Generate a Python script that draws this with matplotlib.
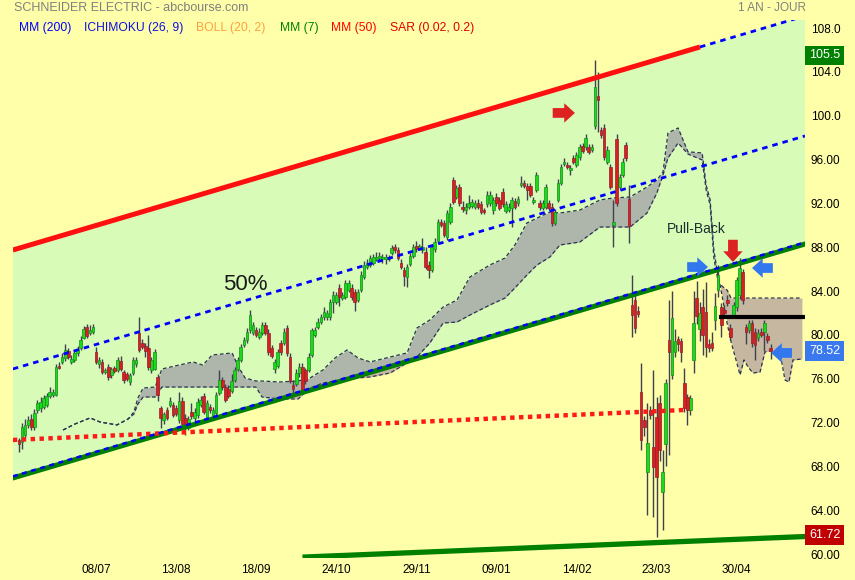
import matplotlib
matplotlib.use("Agg")
import matplotlib.pyplot as plt
import numpy as np

plt.rcParams["font.family"] = "Liberation Sans"

# daily candles: open, high, low, close
candles = [
    (70.4, 70.6, 69.3, 70.0), (70.2, 72.0, 69.6, 71.6), (70.9, 72.3, 70.6, 71.8), (71.8, 72.6, 71.5, 72.2),
    (72.3, 72.8, 71.3, 71.6), (71.6, 73.2, 71.3, 72.9), (73.1, 74.1, 72.9, 73.8), (73.3, 74.3, 73.0, 73.9),
    (73.4, 74.5, 73.2, 74.2), (73.6, 74.7, 73.4, 74.4), (74.4, 75.2, 74.2, 74.8), (74.5, 75.1, 74.3, 74.8),
    (74.5, 77.3, 74.4, 77.1), (77.2, 77.5, 76.9, 77.0), (77.5, 78.3, 77.3, 78.0), (77.9, 79.2, 77.6, 78.6),
    (78.5, 78.8, 77.8, 78.0), (77.5, 78.2, 77.3, 77.8), (77.7, 78.6, 77.5, 78.3), (78.3, 79.0, 78.1, 78.7),
    (78.8, 79.9, 78.6, 79.5), (79.7, 80.8, 79.6, 80.5), (80.7, 81.0, 79.7, 79.9), (80.2, 80.9, 80.0, 80.4),
    (80.3, 81.0, 80.1, 80.7), (78.4, 78.9, 77.3, 77.5), (77.3, 78.0, 77.0, 77.7), (77.5, 77.8, 76.4, 76.6),
    (76.6, 77.0, 76.4, 76.8), (77.1, 77.3, 75.9, 76.2), (76.3, 77.1, 76.1, 76.9), (77.0, 77.2, 76.5, 76.7),
    (76.8, 78.0, 76.6, 77.7), (77.6, 78.1, 76.7, 76.9), (76.6, 76.8, 75.6, 75.9), (76.4, 76.6, 75.8, 76.0),
    (75.7, 76.5, 75.4, 76.3), (76.5, 78.0, 76.3, 77.7), (77.3, 78.0, 77.1, 77.7), (80.2, 81.6, 78.4, 78.6),
    (79.3, 79.6, 78.7, 78.9), (79.0, 79.3, 78.0, 78.5), (78.8, 80.0, 76.8, 77.1), (76.8, 78.0, 76.5, 77.7),
    (76.9, 78.7, 76.8, 78.4), (76.2, 76.4, 74.0, 74.5), (73.3, 73.5, 71.5, 72.4), (72.2, 73.0, 71.9, 72.8),
    (73.1, 73.4, 72.2, 72.4), (73.6, 74.3, 73.4, 74.0), (73.6, 73.9, 72.5, 72.7), (73.3, 73.6, 72.6, 72.8),
    (72.2, 74.8, 72.0, 74.0), (74.0, 74.3, 71.8, 71.9), (72.4, 72.8, 70.9, 71.6), (71.5, 72.6, 71.3, 72.3),
    (73.0, 73.8, 72.3, 72.6), (72.4, 73.3, 72.1, 73.0), (72.7, 74.2, 72.4, 73.9), (73.6, 74.4, 73.4, 74.1),
    (74.4, 74.7, 72.8, 73.0), (72.5, 74.1, 72.3, 73.8), (73.4, 73.7, 72.9, 73.1), (72.4, 73.4, 72.2, 73.1),
    (72.9, 74.8, 72.7, 74.5), (74.7, 76.8, 74.5, 75.9), (75.9, 76.2, 75.0, 75.2), (75.2, 75.5, 73.9, 74.1),
    (75.1, 75.4, 74.2, 74.4), (74.9, 76.4, 74.7, 75.8), (75.9, 77.1, 75.7, 76.8), (76.9, 78.0, 76.7, 77.7),
    (77.7, 79.2, 77.5, 78.9), (79.1, 79.8, 78.9, 79.5), (79.5, 80.6, 79.3, 80.3), (80.4, 82.3, 80.2, 81.8),
    (80.2, 81.2, 80.0, 80.9), (80.4, 80.7, 79.8, 80.0), (79.8, 80.6, 79.6, 80.3), (80.2, 81.2, 80.0, 80.9),
    (80.9, 81.2, 80.0, 80.2), (80.2, 80.5, 78.2, 78.4), (78.8, 79.1, 77.9, 78.1), (76.9, 77.8, 76.5, 77.5),
    (77.2, 78.7, 77.0, 78.4), (79.3, 79.5, 78.2, 78.4), (79.3, 80.6, 79.1, 80.3), (80.6, 80.9, 78.1, 78.3),
    (78.0, 78.3, 75.6, 75.8), (75.4, 75.9, 74.5, 75.1), (75.5, 76.9, 75.3, 76.5), (76.5, 77.4, 76.2, 77.1),
    (77.1, 77.4, 74.6, 74.8), (76.8, 77.0, 75.5, 75.8), (76.8, 78.3, 76.6, 78.0), (78.2, 80.6, 78.0, 80.4),
    (80.0, 80.7, 79.8, 80.4), (80.7, 81.5, 80.5, 81.2), (81.2, 81.9, 81.0, 81.6), (81.6, 82.5, 81.4, 82.1),
    (81.6, 82.3, 81.4, 82.0), (81.6, 83.3, 81.4, 83.0), (83.0, 84.0, 82.0, 83.6), (83.0, 83.9, 82.8, 83.6),
    (84.3, 84.6, 82.6, 83.5), (83.4, 83.9, 83.2, 83.6), (83.5, 85.0, 83.3, 84.7), (84.1, 85.0, 83.9, 84.7),
    (84.3, 84.6, 83.2, 83.5), (83.9, 84.2, 82.2, 83.0), (83.2, 84.2, 83.0, 83.9), (84.1, 85.8, 83.9, 85.5),
    (85.3, 86.7, 85.1, 86.4), (86.2, 86.9, 86.0, 86.6), (86.4, 87.3, 86.2, 87.0), (86.6, 87.4, 86.4, 87.1),
    (86.9, 87.6, 86.7, 87.1), (87.0, 87.6, 86.8, 87.2), (86.9, 87.4, 86.6, 87.1), (86.9, 87.4, 86.5, 87.1),
    (86.9, 87.3, 86.7, 87.0), (87.5, 88.2, 87.3, 87.9), (88.0, 88.3, 87.5, 87.7), (87.7, 88.0, 86.8, 87.0),
    (86.6, 86.9, 86.0, 86.2), (85.9, 86.2, 84.5, 85.4), (85.3, 86.5, 84.4, 86.2), (86.5, 87.5, 86.3, 87.2),
    (87.2, 88.3, 87.0, 88.0), (88.1, 88.6, 87.6, 87.8), (87.9, 88.3, 87.7, 88.1), (87.7, 88.8, 87.5, 88.0),
    (87.6, 88.0, 86.0, 86.2), (86.4, 86.7, 85.2, 85.9), (85.9, 88.2, 85.7, 88.0), (87.8, 88.8, 87.6, 88.5),
    (88.6, 90.6, 88.4, 90.3), (90.3, 90.6, 89.8, 90.0), (90.2, 90.5, 88.9, 89.1), (88.9, 91.4, 88.7, 91.1),
    (90.3, 92.0, 90.1, 91.7), (94.1, 94.4, 91.9, 92.1), (92.6, 93.7, 92.4, 93.4), (93.5, 93.8, 91.8, 92.0),
    (91.7, 92.2, 91.2, 91.5), (91.4, 92.0, 91.0, 91.7), (91.7, 92.8, 91.5, 92.0), (91.8, 92.4, 91.6, 92.1),
    (91.7, 92.3, 91.5, 92.0), (92.0, 92.4, 91.5, 91.7), (91.9, 92.2, 91.0, 91.2), (91.4, 91.6, 91.0, 91.2),
    (91.9, 93.1, 91.7, 92.8), (92.0, 93.1, 91.8, 92.8), (91.4, 92.6, 91.0, 92.3), (92.6, 92.9, 91.8, 92.0),
    (92.3, 92.6, 91.4, 91.6), (93.0, 93.4, 91.7, 91.9), (91.3, 92.2, 91.1, 91.9), (91.4, 92.0, 91.2, 91.7),
    (91.6, 92.6, 89.8, 92.3), (92.2, 92.5, 91.5, 91.7), (92.0, 92.7, 91.8, 92.4), (93.7, 94.5, 93.5, 93.9),
    (93.9, 94.1, 93.4, 93.6), (93.6, 93.9, 92.3, 93.2), (93.6, 93.9, 92.6, 92.8), (92.1, 92.6, 91.9, 92.3),
    (93.2, 94.9, 93.0, 94.6), (92.0, 92.3, 91.4, 91.7), (91.6, 92.3, 91.4, 92.0), (91.7, 93.8, 91.5, 93.5),
    (92.0, 92.3, 91.4, 91.6), (91.7, 92.0, 89.9, 90.2), (90.2, 91.5, 90.0, 91.2), (92.3, 94.2, 92.1, 93.9),
    (93.9, 95.6, 93.7, 95.3), (95.6, 96.1, 95.4, 95.8), (95.5, 95.8, 95.1, 95.3), (95.0, 95.5, 94.6, 95.2),
    (96.1, 96.4, 95.6, 95.8), (95.5, 96.7, 95.3, 96.4), (96.2, 97.4, 96.0, 97.1), (97.2, 97.5, 96.6, 96.8),
    (97.1, 98.3, 96.9, 98.0), (97.1, 97.4, 96.5, 96.7), (96.9, 97.4, 96.7, 97.1), (99.1, 105.1, 98.8, 102.6),
    (101.8, 104.0, 98.5, 101.4), (98.7, 99.0, 98.0, 98.2), (98.9, 99.2, 96.0, 96.2), (95.8, 97.2, 95.6, 96.9),
    (95.3, 95.6, 93.3, 93.5), (90.0, 92.3, 88.0, 90.3), (97.9, 98.3, 91.8, 92.0), (93.5, 94.7, 93.3, 94.4),
    (94.6, 96.1, 94.4, 95.8), (97.3, 97.6, 95.9, 96.1), (92.4, 93.7, 88.4, 89.9), (82.7, 85.5, 79.8, 81.8),
    (83.2, 83.6, 80.2, 80.6), (82.2, 82.6, 81.6, 81.9), (74.8, 77.4, 69.5, 70.4), (72.2, 72.6, 70.8, 71.6),
    (67.5, 73.8, 63.6, 70.1), (73.1, 73.5, 72.3, 72.7), (69.8, 76.8, 63.4, 67.9), (72.5, 74.3, 61.6, 67.0),
    (73.8, 74.5, 68.5, 69.5), (65.7, 69.5, 62.2, 67.5), (70.0, 76.0, 68.0, 75.6), (79.5, 83.2, 69.0, 78.4),
    (76.3, 84.0, 76.0, 81.5), (78.4, 80.5, 78.0, 79.4), (79.6, 79.9, 78.5, 79.2), (79.4, 79.7, 77.5, 78.4),
    (75.6, 77.0, 73.0, 73.3), (74.3, 74.6, 71.8, 73.1), (73.1, 74.5, 72.7, 74.2), (77.7, 84.0, 76.5, 81.1),
    (83.4, 84.9, 81.0, 81.7), (80.5, 83.0, 79.4, 82.0), (82.5, 84.2, 78.2, 80.0), (82.1, 84.8, 78.0, 78.9),
    (79.2, 79.6, 78.4, 78.8), (79.3, 80.3, 78.5, 78.8), (81.4, 83.8, 80.4, 82.6), (84.1, 86.4, 83.5, 85.5),
    (82.5, 82.9, 79.8, 80.9), (82.3, 82.7, 81.7, 82.0), (83.2, 83.6, 82.6, 82.9), (80.6, 81.0, 79.5, 79.8),
    (81.8, 83.0, 81.5, 82.7), (82.5, 85.3, 82.2, 85.0), (83.6, 87.0, 83.3, 86.1), (85.7, 86.0, 82.8, 83.2),
    (80.7, 81.0, 79.2, 80.3), (80.4, 81.4, 80.2, 81.1), (81.1, 81.4, 78.9, 79.3), (80.3, 80.6, 77.7, 79.1),
    (79.7, 80.5, 79.4, 80.2), (80.3, 80.6, 79.8, 80.0), (80.3, 81.4, 78.5, 81.1), (79.9, 80.2, 79.3, 79.5),
    (78.8, 79.2, 77.8, 78.52),
]

# Ichimoku cloud (bar index, span A, span B)
cloud_x = [14.3, 18.2, 23.1, 26.3, 31.8, 35.4, 37.3, 38.6, 40.3, 44.2, 46.4, 50.6, 56.5, 59.7, 62.7,
           69.2, 71.1, 73.4, 76.9, 78.9, 84.7, 90.6, 94.5, 98.7, 102.6, 106.5, 110.1, 114.0, 120.5,
           126.0, 129.2, 133.4, 137.7, 142.2, 146.4, 152.9, 157.8, 161.0, 164.9, 168.2, 172.4, 175.6,
           182.1, 188.6, 192.9, 198.4, 203.9, 207.1, 209.1, 210.7, 214.0, 217.2, 221.8, 223.1, 224.4,
           225.6, 226.9, 227.6, 229.9, 231.2, 232.8, 234.1, 235.4, 236.7, 238.3, 240.6, 242.2, 244.8,
           247.4, 248.7, 250.0, 251.3, 254.2]
span_a = [71.32, 71.87, 72.42, 72.05, 71.78, 72.32, 72.96, 74.24, 75.15, 75.24, 76.89, 77.16, 77.53, 77.25,
          78.16, 78.35, 77.16, 76.07, 75.79, 75.79, 75.70, 75.79, 76.07, 76.80, 77.89, 78.62, 77.89, 77.53,
          77.98, 78.35, 80.63, 81.36, 82.54, 83.18, 85.28, 86.38, 87.01, 88.20, 90.21, 90.66, 91.21, 91.12,
          91.39, 92.31, 92.49, 92.58, 93.49, 94.13, 94.86, 98.42, 98.88, 96.70, 96.60, 93.67, 92.31, 87.74,
          85.46, 84.60, 81.08, 79.35, 77.71, 76.34, 77.71, 77.07, 76.52, 76.61, 78.44, 78.62, 77.89, 75.88,
          75.70, 77.71, 77.80]
span_b = [71.32, 71.87, 72.42, 72.05, 71.78, 72.32, 72.78, 73.69, 74.33, 74.33, 75.24, 75.24, 75.24, 75.24,
          75.24, 75.24, 75.24, 75.24, 75.24, 74.33, 74.15, 74.15, 75.15, 75.61, 75.79, 75.88, 76.07, 76.16,
          76.52, 77.44, 77.98, 79.26, 81.08, 81.17, 81.81, 82.73, 83.36, 84.28, 85.46, 86.38, 87.11, 88.20,
          88.47, 89.84, 89.84, 89.84, 91.12, 92.95, 94.59, 96.14, 97.51, 96.50, 95.96, 93.22, 91.85, 87.01,
          85.00, 84.60, 84.09, 83.36, 83.36, 83.36, 83.36, 83.36, 83.36, 83.36, 83.36, 83.36, 83.36, 83.36,
          83.36, 83.36, 83.36]

# drawn trend lines: (bar index pair, price pair)
channel_top = ([-2.0, 221.1], [87.74, 106.27])
channel_top_ext = ([221.1, 255.2], [106.27, 109.10])
channel_mid = ([-2.0, 255.2], [76.89, 98.15])
channel_low = ([-2.0, 255.2], [66.94, 88.29])
support_dotted = ([-2.0, 216.2], [70.41, 73.15])
bottom_line = ([92.9, 255.2], [59.73, 61.60])
pivot_line = ([227.9, 255.2], [81.63, 81.63])

date_labels = ["08/07", "13/08", "18/09", "24/10", "29/11", "09/01", "14/02", "23/03", "30/04"]
date_pos = [25, 51, 77, 103, 129, 155, 181, 207, 233]
price_ticks = [60, 64, 68, 72, 76, 80, 84, 88, 92, 96, 100, 104, 108]
price_labels = ["60.00", "64.00", "68.00", "72.00", "76.00", "80.00", "84.00", "88.00",
                "92.00", "96.00", "100.0", "104.0", "108.0"]
value_tags = [(105.5, "105.5", "#008000"), (78.52, "78.52", "#3a78f0"), (61.72, "61.72", "#c00000")]

# arrows: tip (bar, price), tail offset in points, colour
arrows = [(180.5, 100.25, -16, 0, "#dd2222"), (231.8, 86.65, 0, 16, "#dd2222"),
          (223.7, 86.19, -15, 0, "#3377ee"), (238.0, 86.10, 15, 0, "#3377ee"),
          (244.2, 78.35, 15, 0, "#3377ee")]

yellow = "#ffffaa"
fig = plt.figure(figsize=(8.55, 5.8), dpi=100, facecolor=yellow)
ax = fig.add_axes([13 / 855, 22 / 580, 792 / 855, 538 / 580], facecolor=yellow)
ax.set_xlim(-1.95, 255.2)
ax.set_ylim(59.64, 108.73)
for s in ax.spines.values():
    s.set_visible(False)

# channel background
ax.fill([channel_low[0][0], channel_low[0][1], channel_top_ext[0][1], channel_top[0][1], channel_top[0][0]],
        [channel_low[1][0], channel_low[1][1], channel_top_ext[1][1], channel_top[1][1], channel_top[1][0]],
        color="#d8fcb8", lw=0, zorder=0)

# ichimoku cloud
ax.fill_between(cloud_x, span_a, span_b, color="#6b4394", alpha=0.38, lw=0, zorder=1)
ax.plot(cloud_x, span_a, color="#2a3550", lw=0.9, ls=(0, (3, 2)), zorder=1.5)
ax.plot(cloud_x, span_b, color="#2a3550", lw=0.9, ls=(0, (3, 2)), zorder=1.5)

# candles
data = np.array(candles)
o, h, l, c = data[:, 0], data[:, 1], data[:, 2], data[:, 3]
x = np.arange(len(candles))
up = c >= o
ax.vlines(x, l, h, color="#40404e", lw=1.0, zorder=3)
body = np.maximum(np.abs(c - o), 0.12)
low_body = np.minimum(o, c)
ax.bar(x[up], body[up], bottom=low_body[up], width=0.85, color="#1ed81e",
       edgecolor="#12901a", lw=0.5, zorder=4)
ax.bar(x[~up], body[~up], bottom=low_body[~up], width=0.85, color="#d82020",
       edgecolor="#90202e", lw=0.5, zorder=4)

# trend lines
ax.plot(*channel_top, color="#ff1010", lw=3.6, solid_capstyle="butt", zorder=5)
ax.plot(*channel_top_ext, color="#0000ff", lw=2, ls=(0, (2, 1.8)), zorder=5)
ax.plot(*channel_mid, color="#0000ff", lw=2, ls=(0, (2, 1.8)), zorder=5)
ax.plot(*channel_low, color="#008000", lw=3.6, zorder=5)
ax.plot(channel_low[0], [v + 0.15 for v in channel_low[1]], color="#0000ff", lw=1.8,
        ls=(0, (2, 1.8)), zorder=5.5)
ax.plot(*support_dotted, color="#ff1a1a", lw=3.2, ls=(0, (1, 1)), zorder=5)
ax.plot(*bottom_line, color="#008000", lw=3.8, zorder=5)
ax.plot(*pivot_line, color="black", lw=3, zorder=5)

for tx, ty, dx, dy, col in arrows:
    ax.annotate("", xy=(tx, ty), xytext=(dx, dy), textcoords="offset points",
                arrowprops=dict(arrowstyle="simple,head_length=0.55,head_width=1.0,tail_width=0.5",
                                mutation_scale=14, color=col, lw=0, shrinkA=0, shrinkB=0), zorder=7)

ax.text(73.4, 84.55, "50%", fontsize=16, ha="center", va="center", color="#1a1a1a", zorder=6)
ax.text(219.8, 89.66, "Pull-Back", fontsize=10, ha="center", va="center", color="#1a3030", zorder=6)

# axes labels
ax.set_xticks(date_pos)
ax.set_xticklabels(date_labels, fontsize=8.5)
ax.yaxis.tick_right()
ax.set_yticks(price_ticks)
ax.set_yticklabels(price_labels, fontsize=8.5)
ax.tick_params(axis="both", length=0)
ax.tick_params(axis="x", pad=4)
ax.tick_params(axis="y", pad=4)

for val, txt, col in value_tags:
    ax.annotate(txt, xy=(1.0, val), xycoords=("axes fraction", "data"), xytext=(3, 0),
                textcoords="offset points", fontsize=9, color="white", va="center", ha="left",
                bbox=dict(boxstyle="square,pad=0.3", fc=col, ec="none"), annotation_clip=False, zorder=8)

fig.text(14 / 855, 1 - 8 / 580, "SCHNEIDER ELECTRIC - abcbourse.com", fontsize=9, color="#808080", va="center")
fig.text(806 / 855, 1 - 8 / 580, "1 AN - JOUR", fontsize=8.5, color="#808080", va="center", ha="right")

legend_items = [("MM (200)", "#0000ff", 19), ("ICHIMOKU (26, 9)", "#1010e0", 84), ("BOLL (20, 2)", "#ffa040", 196),
                ("MM (7)", "#008000", 280), ("MM (50)", "#ff0000", 331), ("SAR (0.02, 0.2)", "#e00000", 390)]
for txt, col, px in legend_items:
    fig.text(px / 855, 1 - 28 / 580, txt, fontsize=8.7, color=col, va="center", zorder=10)

plt.savefig("out.png", dpi=100, facecolor=yellow)
